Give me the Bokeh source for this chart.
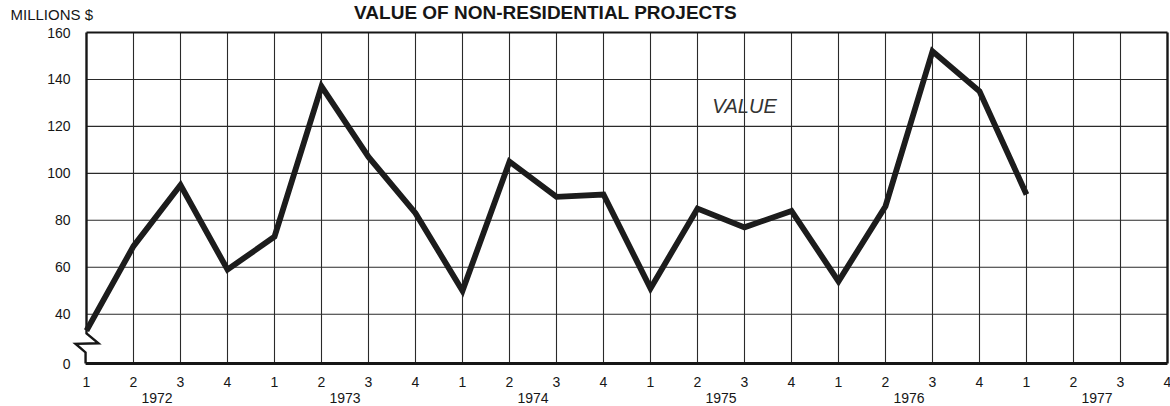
from bokeh.plotting import figure
from bokeh.models import Range1d, Label
from bokeh.core.properties import value
from bokeh.embed import file_html
from bokeh.resources import INLINE

# ---- data ----
years = ["1972", "1973", "1974", "1975", "1976", "1977"]
quarter_labels = ["1", "2", "3", "4"]
values = [33, 69, 95, 59,      # 1972
          73, 137, 107, 83,    # 1973
          50, 105, 90, 91,     # 1974
          51, 85, 77, 84,      # 1975
          54, 86, 152, 135,    # 1976
          91]                  # 1977 Q1
y_ticks = [40, 60, 80, 100, 120, 140, 160]
y_tick_labels = ["40", "60", "80", "100", "120", "140", "160"]
y_zero_pos = 19          # where the broken axis puts "0"
y_zero_label = "0"

n_q = len(years) * 4
x_last = n_q - 1
x_vals = list(range(len(values)))

FONT = "Liberation Sans"
INK = "#161616"

# ---- layout (canvas pixels) ----
W, H = 1170, 406
LEFT_PX, RIGHT_PX = 86, 1167      # frame border positions of quarter 0 and last quarter
TOP_PX, ZERO_PX = 32, 363         # 160 line and 0 line
ux = (RIGHT_PX - LEFT_PX) / x_last
uy = (ZERO_PX - TOP_PX) / (y_ticks[-1] - y_zero_pos)
X0 = -LEFT_PX / ux
X1 = X0 + W / ux
Y1 = y_ticks[-1] + TOP_PX / uy
Y0 = Y1 - H / uy

def cx(px):
    return X0 + px / ux

def cy(py):
    return Y1 - py / uy

p = figure(width=W, height=H, output_backend="svg", toolbar_location=None,
           x_range=Range1d(X0, X1), y_range=Range1d(Y0, Y1),
           x_axis_location=None, y_axis_location=None,
           min_border=0, min_border_left=0, min_border_right=0,
           min_border_top=0, min_border_bottom=0)
p.outline_line_color = None
p.xgrid.visible = False
p.ygrid.visible = False
p.background_fill_color = "white"
p.border_fill_color = "white"

# ---- grid ----
vx = list(range(1, x_last))
p.segment(x0=vx, y0=[y_zero_pos] * len(vx), x1=vx, y1=[y_ticks[-1]] * len(vx),
          line_color="#2a2a2a", line_width=1.1)
hy = y_ticks[:-1]
p.segment(x0=[0] * len(hy), y0=hy, x1=[x_last] * len(hy), y1=hy,
          line_color="#2a2a2a", line_width=1.1)

# ---- frame with axis break ----
top = y_ticks[-1]
p.line([0, x_last], [top, top], line_color=INK, line_width=2.2)
p.line([x_last, x_last], [y_zero_pos, top], line_color=INK, line_width=2.4)
p.line([-0.02, x_last], [y_zero_pos, y_zero_pos], line_color=INK, line_width=3.2)
brk_x = [0, 0, 0.255, -0.234, -0.02, -0.02]
brk_y = [top, 31.8, 27.6, 27.4, 23.7, y_zero_pos]
p.line(brk_x, brk_y, line_color=INK, line_width=2.4, line_join="miter")

# ---- series ----
p.line(x_vals, values, line_color="#1c1c1c", line_width=5.8,
       line_join="miter", line_cap="butt")

# ---- tick labels ----
qx = list(range(n_q))
qlab = [quarter_labels[i % 4] for i in qx]
p.text(x=qx, y=[cy(381)] * n_q, text=qlab, text_font=value(FONT),
       text_font_size=value("14px"), text_color=INK,
       text_align="center", text_baseline="middle")

yx = [4 * k + 1.5 for k in range(len(years))]
p.text(x=yx, y=[cy(397)] * len(years), text=years, text_font=value(FONT),
       text_font_size=value("14px"), text_color=INK,
       text_align="center", text_baseline="middle")

ty = [y_zero_pos] + y_ticks
tl = [y_zero_label] + y_tick_labels
p.text(x=[cx(70)] * len(ty), y=ty, text=tl, text_font=value(FONT),
       text_font_size=value("14px"), text_color=INK,
       text_align="right", text_baseline="middle")

# ---- texts ----
p.add_layout(Label(x=cx(10), y=cy(14), text="MILLIONS $", text_font=FONT,
                   text_font_size="15px", text_color=INK,
                   text_align="left", text_baseline="middle"))
p.add_layout(Label(x=cx(545), y=cy(11.5), text="VALUE OF NON-RESIDENTIAL PROJECTS",
                   text_font=FONT, text_font_size="19px", text_font_style="bold",
                   text_color=INK, text_align="center", text_baseline="middle"))
p.add_layout(Label(x=14, y=cy(105), text="VALUE", text_font=FONT,
                   text_font_size="20px", text_font_style="italic",
                   text_color="#333333", text_align="center", text_baseline="middle"))

open("out.html", "w").write(file_html(p, INLINE))
